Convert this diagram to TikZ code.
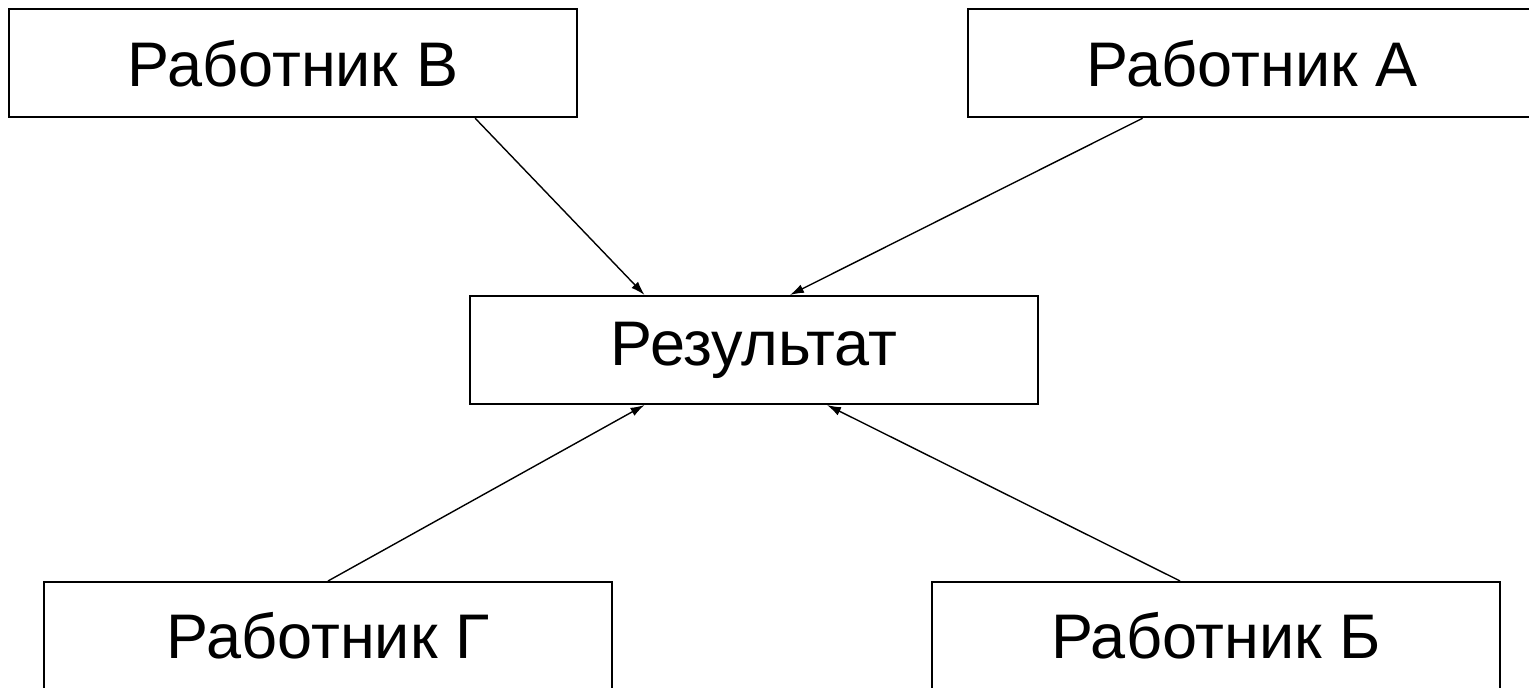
\documentclass[tikz,border=0pt]{standalone}
\usepackage{fontspec}
\setmainfont{Liberation Sans}
\usetikzlibrary{calc,arrows.meta}
\begin{document}
\begin{tikzpicture}[x=0.5pt,y=-0.5pt,
  box/.style={draw,line width=1pt,rectangle,inner sep=0pt,
    minimum width=284pt,minimum height=54pt,
    font=\fontsize{31.5}{37}\selectfont},
  arr/.style={line width=0.7pt,-{Latex[length=7pt,width=4.5pt]}}]
  \useasboundingbox (0,0) rectangle (1529,688);
  \clip (0,0) rectangle (1529,688);
  % worker boxes and the result box
  \node[box] (v) at (292.75,63.25) {Работник В};
  \node[box] (a) at (1252,63.25) {Работник А};
  \node[box] (r) at (754,350) {Результат};
  \node[box] (g) at (328,636) {Работник Г};
  \node[box] (b) at (1216,636) {Работник Б};
  % each worker contributes to the result
  \draw[arr] ($(v.south west)!0.82!(v.south east)$) -- ($(r.north west)!0.308!(r.north east)$);
  \draw[arr] ($(a.south west)!0.308!(a.south east)$) -- ($(r.north west)!0.563!(r.north east)$);
  \draw[arr] ($(g.north west)!0.5!(g.north east)$) -- ($(r.south west)!0.308!(r.south east)$);
  \draw[arr] ($(b.north west)!0.437!(b.north east)$) -- ($(r.south west)!0.628!(r.south east)$);
\end{tikzpicture}
\end{document}
